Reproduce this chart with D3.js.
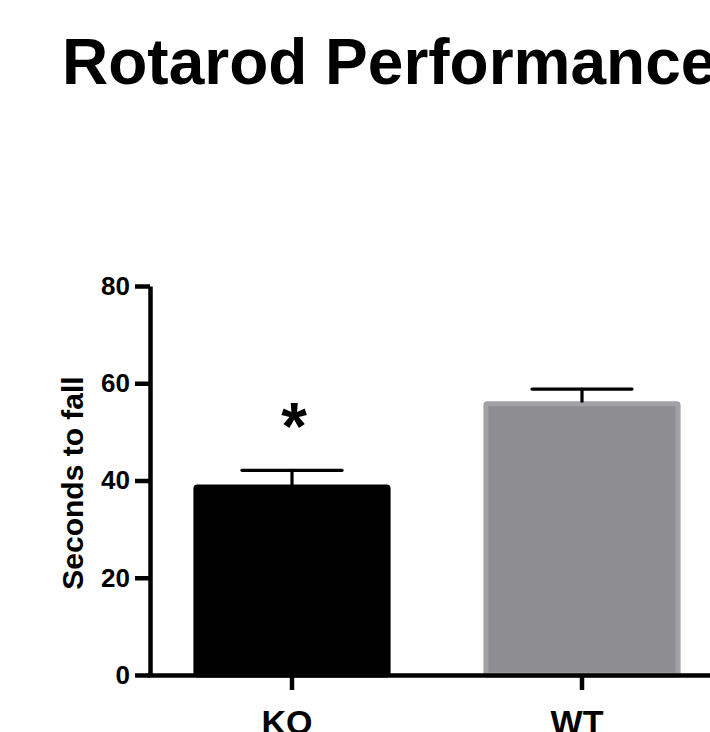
<!DOCTYPE html>
<html>
<head>
<meta charset="utf-8">
<script src="https://cdn.jsdelivr.net/npm/d3@7"></script>
<style>
  body { margin: 0; background: #fff; }
  svg { display: block; font-family: "Liberation Sans", Arial, Helvetica, sans-serif; }
  .axis path, .axis line { stroke: #000; stroke-width: 4.5; }
  .axis text { font-weight: bold; fill: #000; }
</style>
</head>
<body>
<div id="chart"></div>
<script>
// data
const groups = ["KO", "WT"];
const means = [39.2, 56.3];
const errors = [2.9, 2.5];
const barColors = ["#000000", "#8e8d92"];
const barStrokes = ["#000000", "#a2a1a5"];
const yTicks = [0, 20, 40, 60, 80];
const marks = ["*", ""];

const width = 710, height = 732;

const svg = d3.select("#chart")
  .append("svg")
  .attr("width", width)
  .attr("height", height);

// scales
const x = d3.scaleBand()
  .domain(groups)
  .range([147, 727])
  .paddingInner(0.32)
  .paddingOuter(0.16);

const y = d3.scaleLinear()
  .domain([0, 80])
  .range([675, 286]);

// title (runs past the right edge, as in the source image)
svg.append("text")
  .attr("x", 62)
  .attr("y", 84)
  .attr("font-size", 64)
  .attr("font-weight", "bold")
  .text("Rotarod Performance");

// bars (stroke drawn inside so outer edge stays on the band)
const sw = 5;
svg.selectAll(".bar")
  .data(groups)
  .enter()
  .append("rect")
  .attr("class", "bar")
  .attr("x", (d) => x(d) + sw / 2)
  .attr("width", x.bandwidth() - sw)
  .attr("y", (d, i) => y(means[i]) + sw / 2)
  .attr("height", (d, i) => y(0) - y(means[i]) - sw / 2)
  .attr("fill", (d, i) => barColors[i])
  .attr("stroke", (d, i) => barStrokes[i])
  .attr("stroke-width", sw)
  .attr("rx", 1.5);

// error bars (upper only)
const err = svg.selectAll(".err")
  .data(groups)
  .enter()
  .append("g")
  .attr("class", "err")
  .attr("stroke", "#000")
  .attr("stroke-width", 3.2)
  .attr("stroke-linecap", "round");

err.append("line")
  .attr("x1", (d) => x(d) + x.bandwidth() / 2)
  .attr("x2", (d) => x(d) + x.bandwidth() / 2)
  .attr("y1", (d, i) => y(means[i]))
  .attr("y2", (d, i) => y(means[i] + errors[i]));

err.append("line")
  .attr("x1", (d) => x(d) + x.bandwidth() / 2 - 50)
  .attr("x2", (d) => x(d) + x.bandwidth() / 2 + 50)
  .attr("y1", (d, i) => y(means[i] + errors[i]))
  .attr("y2", (d, i) => y(means[i] + errors[i]));

// significance marks
svg.selectAll(".sig")
  .data(groups)
  .enter()
  .append("text")
  .attr("class", "sig")
  .attr("x", (d) => x(d) + x.bandwidth() / 2 + 2)
  .attr("y", 449)
  .attr("text-anchor", "middle")
  .attr("font-size", 66)
  .attr("font-weight", "bold")
  .text((d, i) => marks[i]);

// axes
svg.append("g")
  .attr("class", "axis y-axis")
  .attr("transform", `translate(150,0)`)
  .call(d3.axisLeft(y).tickValues(yTicks).tickSize(15).tickSizeOuter(0).tickPadding(5))
  .call((g) => g.selectAll("text").attr("font-size", 26));

svg.append("g")
  .attr("class", "axis x-axis")
  .attr("transform", `translate(0,${y(0)})`)
  .call(d3.axisBottom(x).tickSize(15).tickSizeOuter(0).tickPadding(20))
  .call((g) => g.selectAll("text").attr("font-size", 34).attr("dx", -5));

// y label
svg.append("text")
  .attr("transform", "translate(83,483) rotate(-90)")
  .attr("text-anchor", "middle")
  .attr("font-size", 30)
  .attr("font-weight", "bold")
  .text("Seconds to fall");
</script>
</body>
</html>
